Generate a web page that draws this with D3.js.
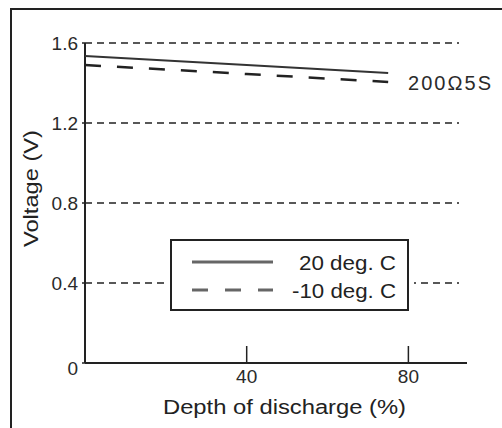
<!DOCTYPE html>
<html>
<head>
<meta charset="utf-8">
<script src="https://cdn.jsdelivr.net/npm/d3@7"></script>
<style>
  body { margin: 0; background: #fff; }
  svg { display: block; font-family: "Liberation Sans", Arial, sans-serif; }
</style>
</head>
<body>
<div id="chart-area"></div>
<script>
const depth20 = [0, 40, 75];
const volt20 = [1.535, 1.49, 1.45];
const depthM10 = [0, 40, 75];
const voltM10 = [1.49, 1.445, 1.405];
const xTicks = [40, 80];
const yTicks = [0, 0.4, 0.8, 1.2, 1.6];
const yTickLabels = ["0", "0.4", "0.8", "1.2", "1.6"];
const seriesNames = ["20 deg. C", "-10 deg. C"];

const width = 502, height = 428;

const svg = d3.select("#chart-area")
  .append("svg")
  .attr("width", width)
  .attr("height", height);

const x = d3.scaleLinear().domain([0, 94.5]).range([85, 467]);
const y = d3.scaleLinear().domain([0, 1.6]).range([363, 43]);

// outer frame (cut off at right and bottom)
svg.append("rect")
  .attr("x", 11).attr("y", 9)
  .attr("width", 600).attr("height", 600)
  .attr("fill", "none")
  .attr("stroke", "#222")
  .attr("stroke-width", 2);

// dashed grid
svg.selectAll(".y-grid")
  .data(yTicks.filter(d => d > 0))
  .enter()
  .append("line")
  .attr("class", "y-grid")
  .attr("x1", x(0))
  .attr("x2", 459)
  .attr("y1", d => y(d))
  .attr("y2", d => y(d))
  .attr("stroke", "#222")
  .attr("stroke-width", 1.6)
  .attr("stroke-dasharray", "7,5");

// small left ticks
svg.selectAll(".y-tick")
  .data(yTicks)
  .enter()
  .append("line")
  .attr("x1", x(0) - 3)
  .attr("x2", x(0))
  .attr("y1", d => y(d))
  .attr("y2", d => y(d))
  .attr("stroke", "#222")
  .attr("stroke-width", 1.5);

svg.selectAll(".y-label")
  .data(yTicks)
  .enter()
  .append("text")
  .attr("x", 78)
  .attr("y", (d, i) => y(d) + (d === 0 ? 12 : 7))
  .attr("text-anchor", "end")
  .style("font-size", "19px")
  .style("fill", "#2a2a2a")
  .text((d, i) => yTickLabels[i]);

// axes
svg.append("line")
  .attr("x1", x(0)).attr("x2", x(0))
  .attr("y1", y(1.6)).attr("y2", y(0))
  .attr("stroke", "#222").attr("stroke-width", 2);
svg.append("line")
  .attr("x1", x(0)).attr("x2", x(94.5))
  .attr("y1", y(0)).attr("y2", y(0))
  .attr("stroke", "#222").attr("stroke-width", 2);

svg.selectAll(".x-tick")
  .data(xTicks)
  .enter()
  .append("line")
  .attr("x1", d => x(d)).attr("x2", d => x(d))
  .attr("y1", y(0) - 17).attr("y2", y(0))
  .attr("stroke", "#222").attr("stroke-width", 1.5);

svg.selectAll(".x-label")
  .data(xTicks)
  .enter()
  .append("text")
  .attr("x", d => x(d))
  .attr("y", 383)
  .attr("text-anchor", "middle")
  .style("font-size", "19px")
  .style("fill", "#2a2a2a")
  .text(d => d);

// data lines
const line = d3.line().x(d => x(d[0])).y(d => y(d[1]));

svg.append("path")
  .datum(depth20.map((d, i) => [d, volt20[i]]))
  .attr("d", line)
  .attr("fill", "none")
  .attr("stroke", "#333")
  .attr("stroke-width", 2);

svg.append("path")
  .datum(depthM10.map((d, i) => [d, voltM10[i]]))
  .attr("d", line)
  .attr("fill", "none")
  .attr("stroke", "#222")
  .attr("stroke-width", 2.5)
  .attr("stroke-dasharray", "16,16");

svg.append("text")
  .attr("x", 408)
  .attr("y", 90)
  .attr("textLength", 83)
  .attr("lengthAdjust", "spacing")
  .style("font-size", "20px")
  .style("fill", "#2a2a2a")
  .text("200Ω5S");

// legend
svg.append("rect")
  .attr("x", 165).attr("y", 234)
  .attr("width", 249).attr("height", 82)
  .attr("fill", "#fff");
svg.append("rect")
  .attr("x", 171).attr("y", 240)
  .attr("width", 237).attr("height", 70)
  .attr("fill", "none")
  .attr("stroke", "#222")
  .attr("stroke-width", 2);

const legendY = [262, 290];
const legendDash = [null, "16,17"];
seriesNames.forEach((name, i) => {
  svg.append("line")
    .attr("x1", 192).attr("x2", 273)
    .attr("y1", legendY[i]).attr("y2", legendY[i])
    .attr("stroke", "#666")
    .attr("stroke-width", 3)
    .attr("stroke-dasharray", legendDash[i]);
  svg.append("text")
    .attr("x", 396)
    .attr("y", legendY[i] + 8)
    .attr("text-anchor", "end")
    .attr("textLength", i === 0 ? 97 : 104)
    .attr("lengthAdjust", "spacingAndGlyphs")
    .style("font-size", "21px")
    .style("fill", "#222")
    .text(name);
});

// axis titles
svg.append("text")
  .attr("x", 163)
  .attr("y", 414)
  .attr("textLength", 243)
  .attr("lengthAdjust", "spacingAndGlyphs")
  .style("font-size", "20px")
  .style("fill", "#222")
  .text("Depth of discharge (%)");

svg.append("text")
  .attr("transform", "rotate(-90)")
  .attr("x", -247)
  .attr("y", 38)
  .attr("textLength", 117)
  .attr("lengthAdjust", "spacingAndGlyphs")
  .style("font-size", "20px")
  .style("fill", "#222")
  .text("Voltage (V)");
</script>
</body>
</html>
